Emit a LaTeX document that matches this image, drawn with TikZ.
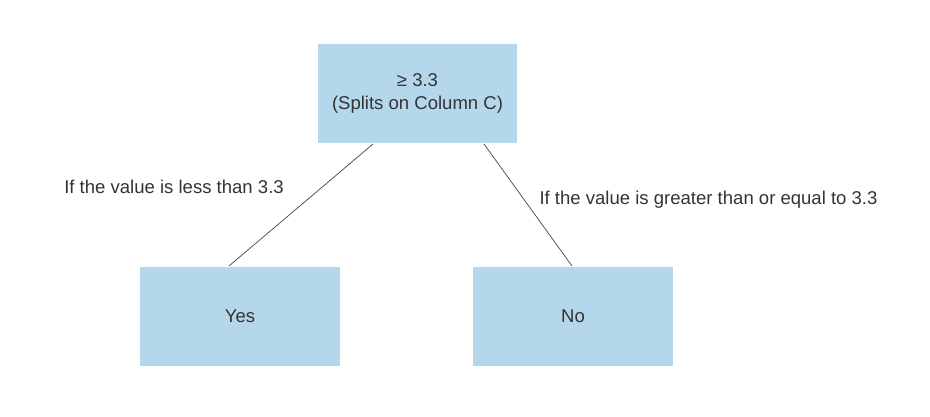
\documentclass[tikz,border=0pt]{standalone}
\usepackage{fontspec}
\setmainfont{Liberation Sans}
\usepackage{tikz}
\usetikzlibrary{positioning}
\definecolor{boxblue}{HTML}{B5D7EC}
\definecolor{txtgray}{HTML}{333333}
\definecolor{linegray}{HTML}{444444}

\begin{document}
\begin{tikzpicture}[x=0.02cm, y=-0.02cm, semithick,
    every node/.style={font=\fontsize{10.55}{12.8}\selectfont, text=txtgray},
    leaf/.style={fill=boxblue, minimum width=4cm, minimum height=2cm, inner sep=0pt},
    edgelabel/.style={inner sep=0pt}]
    	\useasboundingbox (0,0) rectangle (930,416);
    	\node[leaf, align=center] (split) at (417.5,93.5) {≥ 3.3\\(Splits on Column C)};
    	\node[leaf] (yes) at (240,316.5) {Yes};
    	\node[leaf] (no) at (573,316.5) {No};
    	\draw[linegray, thin] ([xshift=-0.89cm]split.south) -- ([xshift=-0.22cm]yes.north);
    	\draw[linegray, thin] ([xshift=1.33cm]split.south) -- ([xshift=-0.02cm]no.north);
    	\node[edgelabel] (lesslabel) at (174,187) {If the value is less than 3.3};
    	\node[edgelabel] (geqlabel) at (708.5,200) {If the value is greater than or equal to 3.3};
    \end{tikzpicture}
\end{document}
